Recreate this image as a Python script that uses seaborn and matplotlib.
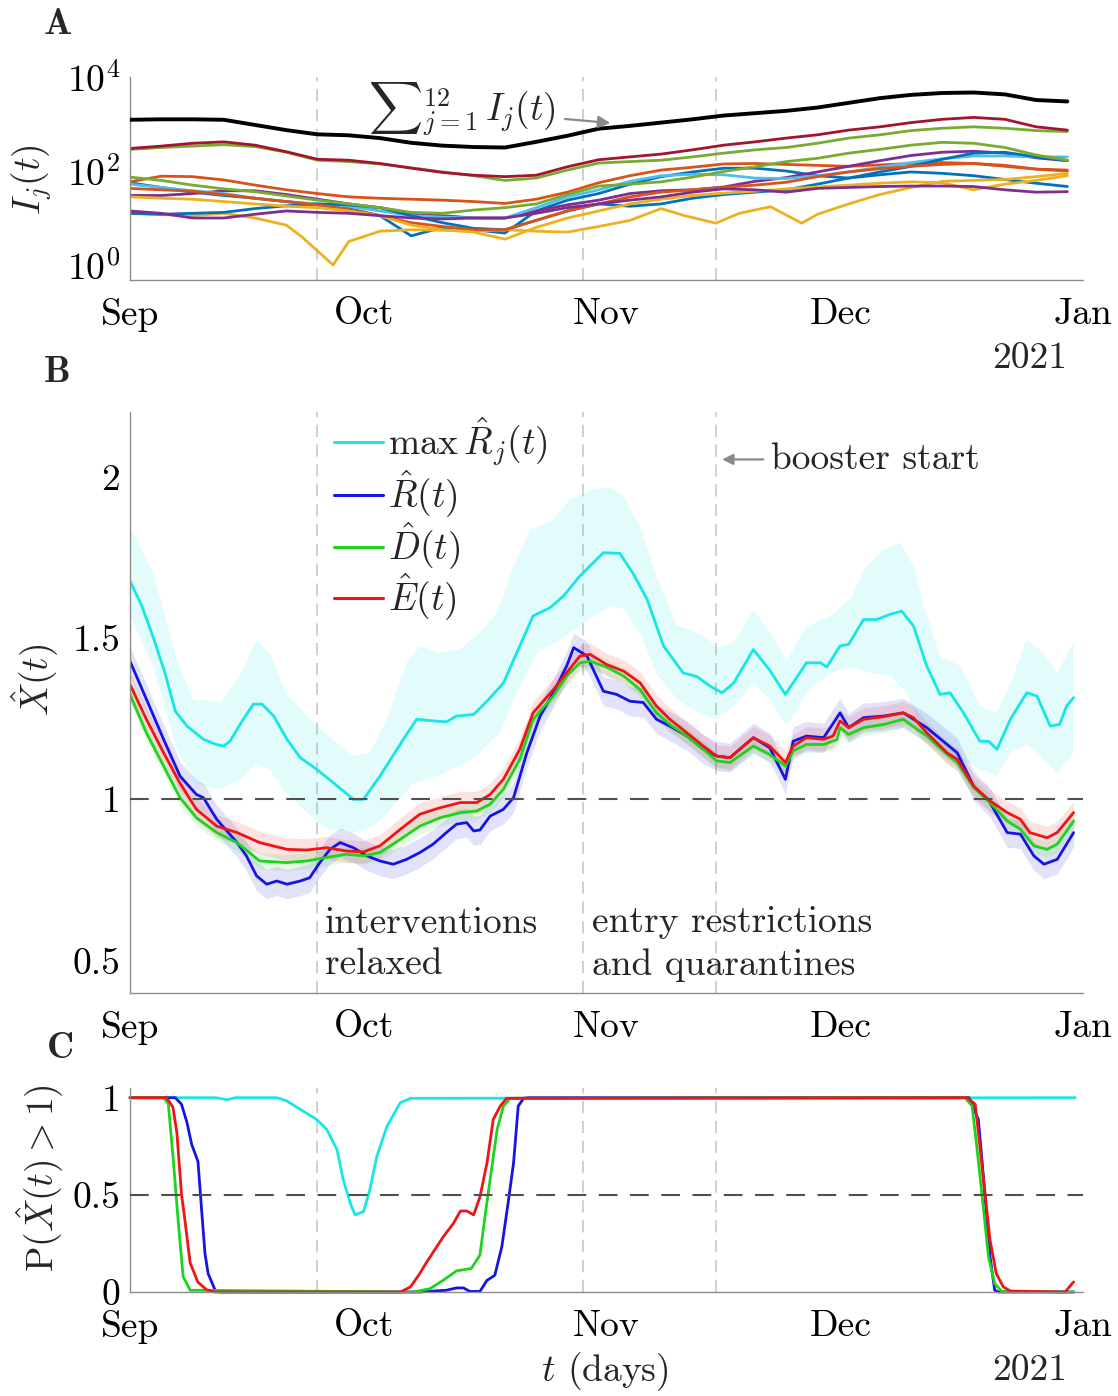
import numpy as np
import matplotlib
matplotlib.use("Agg")
import matplotlib.pyplot as plt
import seaborn as sns
from matplotlib.lines import Line2D
from matplotlib.ticker import LogLocator, NullFormatter

# ---------------- data ----------------
MONTH_TICKS = [0, 30, 61, 91, 122]
MONTH_LABELS = ["Sep", "Oct", "Nov", "Dec", "Jan"]
EVENT_DAYS = [24, 58, 75]

# Panel A: log10 of I_j(t), read every 4 days
DAYS_A = [0, 4, 8, 12, 16, 20, 24, 28, 32, 36, 40, 44, 48, 52, 56, 60,
          64, 68, 72, 76, 80, 84, 88, 92, 96, 100, 104, 108, 112, 116, 120]
log_total = [3.09, 3.10, 3.10, 3.09, 2.98, 2.87, 2.78, 2.76, 2.70, 2.60, 2.54, 2.51, 2.50, 2.62, 2.75, 2.90,
             2.96, 3.03, 3.10, 3.18, 3.23, 3.28, 3.35, 3.45, 3.55, 3.62, 3.66, 3.67, 3.63, 3.51, 3.48]
log_blue1 = [1.75, 1.65, 1.55, 1.48, 1.42, 1.35, 1.28, 1.20, 1.05, 0.62, 0.80, 0.75, 0.68, 1.15, 1.38, 1.52,
             1.72, 1.88, 1.98, 2.06, 2.06, 2.00, 1.90, 1.85, 1.92, 1.98, 1.95, 1.90, 1.82, 1.74, 1.67]
log_orange1 = [1.77, 1.89, 1.88, 1.81, 1.70, 1.60, 1.52, 1.45, 1.42, 1.40, 1.38, 1.35, 1.31, 1.40, 1.55, 1.75,
               1.90, 2.02, 2.08, 2.15, 2.16, 2.14, 2.12, 2.10, 2.13, 2.16, 2.18, 2.16, 2.12, 2.04, 2.00]
DAYS_YELLOW1 = [0, 4, 8, 12, 16, 20, 22, 24, 26, 28, 32, 36, 40, 44, 48, 52, 56, 60, 64, 68, 71, 75,
                78, 82, 86, 88, 92, 96, 100, 104, 108, 112, 116, 120]
log_yellow1 = [1.10, 1.07, 1.05, 1.10, 1.00, 0.85, 0.60, 0.30, 0.00, 0.50, 0.72, 0.75, 0.74, 0.72, 0.75, 0.72,
               0.70, 0.82, 0.95, 1.20, 1.05, 0.89, 1.10, 1.24, 0.89, 1.08, 1.30, 1.50, 1.65, 1.78, 1.80, 1.82,
               1.88, 1.95]
log_purple1 = [1.48, 1.48, 1.52, 1.58, 1.58, 1.50, 1.40, 1.30, 1.22, 1.10, 1.05, 1.00, 1.00, 1.15, 1.28, 1.38,
               1.52, 1.58, 1.60, 1.66, 1.78, 1.86, 1.98, 2.10, 2.22, 2.33, 2.40, 2.42, 2.38, 2.28, 2.22]
log_green1 = [2.46, 2.50, 2.53, 2.56, 2.52, 2.40, 2.23, 2.20, 2.15, 2.07, 1.98, 1.90, 1.80, 1.85, 2.02, 2.17,
              2.20, 2.23, 2.30, 2.38, 2.45, 2.50, 2.59, 2.70, 2.77, 2.86, 2.91, 2.94, 2.91, 2.86, 2.84]
log_lightblue = [1.72, 1.65, 1.58, 1.52, 1.42, 1.35, 1.30, 1.25, 1.15, 1.05, 1.02, 1.00, 1.00, 1.22, 1.45, 1.60,
                 1.78, 1.90, 1.93, 1.92, 1.85, 1.84, 1.90, 1.98, 2.08, 2.18, 2.26, 2.32, 2.32, 2.30, 2.30]
log_darkred = [2.48, 2.53, 2.59, 2.62, 2.55, 2.41, 2.25, 2.23, 2.16, 2.06, 1.97, 1.91, 1.88, 1.91, 2.09, 2.24,
               2.30, 2.36, 2.45, 2.55, 2.62, 2.70, 2.77, 2.87, 2.94, 3.03, 3.10, 3.14, 3.10, 2.94, 2.87]
log_blue2 = [1.10, 1.08, 1.10, 1.12, 1.20, 1.26, 1.30, 1.28, 1.22, 1.05, 0.90, 0.78, 0.75, 0.95, 1.15, 1.30,
             1.25, 1.30, 1.42, 1.50, 1.55, 1.60, 1.72, 1.85, 1.98, 2.10, 2.25, 2.38, 2.40, 2.30, 2.22]
log_orange2 = [1.63, 1.60, 1.57, 1.50, 1.42, 1.35, 1.28, 1.18, 1.05, 0.90, 0.82, 0.75, 0.75, 0.95, 1.15, 1.30,
               1.45, 1.55, 1.60, 1.65, 1.70, 1.76, 1.88, 1.98, 2.05, 2.10, 2.14, 2.16, 2.10, 2.04, 2.02]
log_yellow2 = [1.45, 1.42, 1.40, 1.35, 1.30, 1.25, 1.22, 1.15, 1.05, 0.85, 0.75, 0.70, 0.55, 0.80, 1.00, 1.15,
               1.30, 1.40, 1.48, 1.53, 1.57, 1.62, 1.66, 1.70, 1.74, 1.77, 1.75, 1.60, 1.72, 1.80, 1.90]
log_purple2 = [1.15, 1.10, 1.00, 1.00, 1.08, 1.15, 1.12, 1.10, 1.05, 1.00, 0.98, 1.00, 1.00, 1.10, 1.22, 1.30,
               1.38, 1.45, 1.55, 1.62, 1.60, 1.55, 1.63, 1.65, 1.67, 1.68, 1.68, 1.67, 1.60, 1.55, 1.56]
log_green2 = [1.87, 1.80, 1.70, 1.62, 1.56, 1.47, 1.38, 1.30, 1.22, 1.12, 1.10, 1.17, 1.22, 1.30, 1.50, 1.68,
              1.72, 1.77, 1.87, 1.99, 2.09, 2.20, 2.27, 2.38, 2.46, 2.55, 2.61, 2.59, 2.50, 2.34, 2.23]

# Panel B: max R_j(t) with its band
DAYS_MAXR = [0, 1.5, 3, 4.5, 5.8, 7.3, 9.4, 11, 12, 12.8, 14.5, 15.8, 16.9, 18.4, 20.1, 21.8, 23.9, 26,
             28.6, 29.9, 32, 35, 36.7, 38.8, 40.5, 41.8, 44, 45.7, 47.8, 49.9, 51.6, 53.8, 55.5, 57.6,
             60.6, 62.7, 64.4, 66.2, 68.3, 70.8, 72.6, 74.3, 75.8, 77.3, 79.8, 81.9, 83.9, 86.6, 88.4,
             89.2, 90.9, 92, 93.9, 95.6, 97.3, 98.8, 100.3, 102, 103.7, 105, 106.7, 108.8, 109.9, 111,
             112.7, 114.8, 116.1, 117.8, 119, 119.9, 120.8]
MAXR = [1.676, 1.60, 1.50, 1.39, 1.273, 1.227, 1.186, 1.17, 1.165, 1.18, 1.248, 1.295, 1.295, 1.258,
        1.186, 1.129, 1.093, 1.052, 1.0, 1.0, 1.072, 1.186, 1.248, 1.243, 1.24, 1.258, 1.263, 1.304,
        1.36, 1.475, 1.568, 1.594, 1.63, 1.692, 1.764, 1.762, 1.70, 1.62, 1.475, 1.392, 1.38, 1.35,
        1.33, 1.361, 1.464, 1.40, 1.325, 1.423, 1.423, 1.41, 1.475, 1.48, 1.557, 1.557, 1.573, 1.583,
        1.537, 1.413, 1.325, 1.33, 1.268, 1.18, 1.18, 1.155, 1.248, 1.33, 1.32, 1.227, 1.232, 1.289,
        1.315]
DAYS_MAXR_HI = [0, 3, 6, 8.1, 11.5, 14, 16.2, 17.9, 20, 22.6, 25.2, 28.6, 30.7, 32.9, 35.4, 37.1, 39.7,
                42.2, 44.8, 47, 49.1, 51.2, 54.2, 56.3, 59.3, 61.5, 63.2, 65.3, 67.4, 70, 71.7, 73.9,
                75.1, 77.3, 79.8, 81.9, 84.1, 86.6, 89.6, 92.2, 94.3, 96.4, 98.6, 100.3, 101.6, 103.7,
                106.3, 108.8, 111, 112.7, 114.8, 116.9, 118.7, 120.8]
MAXR_HI = [1.846, 1.70, 1.433, 1.31, 1.30, 1.38, 1.495, 1.45, 1.33, 1.258, 1.20, 1.134, 1.145, 1.248,
           1.423, 1.475, 1.454, 1.464, 1.516, 1.578, 1.722, 1.835, 1.866, 1.93, 1.96, 1.965, 1.94,
           1.846, 1.69, 1.537, 1.525, 1.50, 1.47, 1.485, 1.588, 1.516, 1.43, 1.535, 1.567, 1.62, 1.722,
           1.773, 1.795, 1.722, 1.60, 1.444, 1.413, 1.289, 1.268, 1.36, 1.495, 1.454, 1.392, 1.485]
DAYS_MAXR_LO = [0, 3, 6, 8.5, 11.5, 14, 16.2, 17.9, 20, 22.6, 25.2, 28.6, 31.2, 33.7, 36.3, 39.3, 42.2,
                44.8, 47.4, 49.1, 52.1, 55.1, 57.6, 59.5, 61.5, 63.2, 65.3, 67.4, 70, 72.6, 75.1, 77.3,
                79.8, 81.9, 84.1, 86.6, 89.6, 92.2, 94.7, 97.3, 99.4, 101.6, 103.7, 106.3, 108.8, 111,
                112.7, 114.8, 116.9, 118.7, 120.8]
MAXR_LO = [1.57, 1.41, 1.155, 1.05, 1.03, 1.06, 1.11, 1.09, 1.02, 0.96, 0.91, 0.897, 0.917, 0.98, 1.05,
           1.072, 1.103, 1.144, 1.206, 1.31, 1.454, 1.495, 1.537, 1.57, 1.60, 1.59, 1.516, 1.39, 1.31,
           1.27, 1.248, 1.29, 1.36, 1.31, 1.227, 1.33, 1.392, 1.41, 1.392, 1.382, 1.33, 1.206, 1.155,
           1.124, 1.093, 1.072, 1.144, 1.17, 1.124, 1.082, 1.144]

DAYS_R = [0, 2.1, 4.3, 6.4, 8.5, 9.4, 11.1, 13.7, 14.9, 16.2, 17.5, 18.8, 20.1, 21.8, 23.0, 24.3, 25.6,
          26.9, 28.6, 30.3, 32, 33.7, 35.4, 37.1, 38.8, 40.5, 41.8, 43.1, 44, 44.8, 46.1, 47.8, 49.1,
          50.8, 52.5, 54.2, 55.9, 56.8, 58.5, 60.6, 62.3, 64, 65.7, 67.4, 69.1, 71.3, 73.4, 75.1, 76.8,
          79.8, 81.9, 83.9, 84.9, 86.6, 88.8, 90.9, 92, 93.9, 96.5, 99, 102, 104.6, 105.9, 108, 110.1,
          112.3, 114, 115.7, 117, 118.7, 120.8]
R_HAT = [1.428, 1.31, 1.186, 1.072, 1.015, 1.005, 0.938, 0.866, 0.825, 0.763, 0.737, 0.747, 0.737,
         0.747, 0.757, 0.804, 0.845, 0.866, 0.85, 0.825, 0.809, 0.799, 0.814, 0.835, 0.861, 0.897, 0.923,
         0.928, 0.902, 0.905, 0.948, 0.969, 1.005, 1.144, 1.258, 1.33, 1.413, 1.47, 1.444, 1.335, 1.325,
         1.304, 1.30, 1.248, 1.227, 1.196, 1.155, 1.134, 1.129, 1.191, 1.16, 1.062, 1.18, 1.196, 1.191,
         1.268, 1.222, 1.253, 1.258, 1.268, 1.222, 1.17, 1.144, 1.041, 0.99, 0.897, 0.892, 0.825, 0.799,
         0.814, 0.897]
DAYS_D = [0, 2.1, 4.3, 6.4, 8.5, 11.1, 13.7, 16.6, 20.1, 22.6, 25.2, 27.7, 29.9, 32, 34.6, 37.1, 39.7,
          42.3, 44.4, 46.1, 47.8, 49.9, 51.6, 54.2, 55.9, 57.6, 58.9, 61, 63.2, 65.3, 67.4, 69.1, 71.3,
          73.4, 75.1, 76.8, 79.8, 81.9, 83.9, 84.9, 86.6, 88.8, 90.5, 90.9, 92, 93.9, 96.5, 99, 102,
          104.6, 105.9, 108, 110.1, 112.3, 114, 115.7, 117.4, 118.7, 120.8]
D_HAT = [1.325, 1.206, 1.103, 1.005, 0.943, 0.897, 0.866, 0.809, 0.804, 0.809, 0.82, 0.83, 0.825, 0.835,
         0.876, 0.917, 0.943, 0.959, 0.964, 0.985, 1.031, 1.124, 1.248, 1.32, 1.382, 1.423, 1.428, 1.41,
         1.382, 1.34, 1.268, 1.232, 1.196, 1.155, 1.119, 1.114, 1.165, 1.139, 1.103, 1.15, 1.17, 1.17,
         1.185, 1.222, 1.201, 1.222, 1.232, 1.248, 1.196, 1.139, 1.114, 1.036, 0.99, 0.933, 0.907, 0.856,
         0.845, 0.861, 0.933]
DAYS_E = [0, 2.1, 4.3, 6.4, 8.5, 11.1, 13.7, 16.6, 20.1, 22.6, 25.2, 27.7, 29.9, 32, 34.6, 37.1, 39.7,
          42.3, 44.4, 46.1, 47.8, 49.9, 51.6, 54.2, 55.9, 57.6, 58.9, 61, 63.2, 65.3, 67.4, 69.1, 71.3,
          73.4, 75.1, 76.8, 79.8, 81.9, 83.9, 84.9, 86.6, 88.8, 90, 90.9, 92, 93.9, 96.5, 99, 100.3, 102,
          104.6, 105.9, 108, 110.1, 112.3, 114, 115.2, 117.4, 118.7, 120.8]
E_HAT = [1.356, 1.248, 1.144, 1.05, 0.969, 0.917, 0.897, 0.866, 0.845, 0.843, 0.85, 0.84, 0.837, 0.856,
         0.907, 0.954, 0.974, 0.99, 0.99, 1.015, 1.062, 1.155, 1.268, 1.34, 1.392, 1.444, 1.449, 1.418,
         1.397, 1.361, 1.289, 1.248, 1.206, 1.165, 1.134, 1.129, 1.191, 1.165, 1.114, 1.165, 1.191, 1.186,
         1.196, 1.243, 1.222, 1.248, 1.256, 1.268, 1.253, 1.206, 1.144, 1.124, 1.041, 0.995, 0.959, 0.938,
         0.897, 0.881, 0.897, 0.959]
BAND_HALF = {"R": 0.045, "D": 0.025, "E": 0.035}

# Panel C: P(X(t) > 1)
DAYS_P_MAXR = [0, 11, 12.4, 13.5, 18.8, 20, 21.8, 23.9, 25.2, 26.5, 27.3, 28.2, 28.8, 29.9, 30.7, 31.6,
               32.9, 34.6, 35.9, 121]
P_MAXR = [1, 1, 0.99, 1, 1, 0.985, 0.94, 0.888, 0.836, 0.733, 0.578, 0.457, 0.397, 0.414, 0.526, 0.698,
          0.853, 0.974, 0.997, 1]
DAYS_P_R = [0, 5.8, 6.6, 7.3, 7.9, 8.7, 9.2, 9.6, 10, 10.9, 11.5, 37.1, 40.5, 41.8, 42.7, 43.5, 44.8,
            45.7, 46.7, 47.6, 48.4, 49.1, 49.7, 50.4, 51, 107.4, 108.6, 109.1, 109.5, 110.1, 110.7,
            111.2, 120.8]
P_R = [1, 1, 0.966, 0.871, 0.759, 0.672, 0.405, 0.198, 0.095, 0.009, 0, 0, 0.009, 0.021, 0.021, 0.003,
       0.003, 0.06, 0.086, 0.233, 0.457, 0.664, 0.957, 0.997, 1, 1, 0.888, 0.664, 0.474, 0.181, 0.009,
       0, 0]
DAYS_P_D = [0, 4.3, 4.9, 5.5, 6.2, 6.8, 7.7, 36.3, 38.4, 40.1, 41.8, 43.7, 44.8, 45.5, 46.1, 47, 47.8,
            48.7, 106.9, 107.8, 108.4, 109.1, 109.9, 110.7, 111.6, 120.8]
P_D = [1, 1, 0.97, 0.70, 0.35, 0.08, 0.009, 0, 0.017, 0.06, 0.109, 0.121, 0.19, 0.405, 0.578, 0.836,
       0.957, 0.997, 1, 0.957, 0.75, 0.49, 0.181, 0.043, 0.003, 0]
DAYS_P_E = [0, 4.7, 5.5, 6.0, 6.6, 7.0, 7.7, 8.7, 9.8, 10.9, 34.6, 35.9, 37.1, 38, 40.1, 41.4, 42.3,
            43.1, 44, 44.8, 45.7, 46.5, 47.4, 48.2, 107.2, 108.2, 108.8, 109.5, 110.1, 110.9, 111.8,
            112.7, 119.7, 120.8]
P_E = [1, 1, 0.95, 0.82, 0.5, 0.38, 0.15, 0.05, 0.012, 0, 0, 0.026, 0.095, 0.155, 0.284, 0.353, 0.417,
       0.417, 0.397, 0.49, 0.664, 0.888, 0.957, 0.997, 1, 0.966, 0.75, 0.49, 0.267, 0.095, 0.026, 0.005,
       0, 0.052]

# ---------------- style ----------------
sns.set_style("white")
plt.rcParams.update({
    "font.family": ["cmr10", "DejaVu Serif"],
    "mathtext.fontset": "cm",
    "axes.formatter.use_mathtext": True,
    "axes.unicode_minus": False,
})
FS = 27
SPINE = "#8c8c8c"
C_MAXR, C_R, C_D, C_E = "#17e6e6", "#1414e6", "#1ed21e", "#f01414"
M = {"blue": "#0072BD", "orange": "#D95319", "yellow": "#EDB120", "purple": "#7E2F8E",
     "green": "#77AC30", "lightblue": "#4DBEEE", "darkred": "#A2142F"}

W, H = 1118, 1396
fig = plt.figure(figsize=(W / 100, H / 100), dpi=100)


def ax_at(left, top, right, bottom):
    return fig.add_axes([left / W, 1 - bottom / H, (right - left) / W, (bottom - top) / H])


axA = ax_at(130, 77, 1083, 280)
axB = ax_at(130, 412, 1083, 993)
axC = ax_at(130, 1088, 1083, 1292)


def style(ax):
    for s in ["top", "right"]:
        ax.spines[s].set_visible(False)
    for s in ["left", "bottom"]:
        ax.spines[s].set_color(SPINE)
        ax.spines[s].set_linewidth(1.0)
    ax.tick_params(axis="both", which="major", direction="in", length=6, width=0.9,
                   color=SPINE, labelsize=FS, labelcolor="black")
    ax.tick_params(axis="x", pad=13)
    ax.tick_params(axis="y", pad=7)
    ax.tick_params(axis="both", which="minor", direction="in", length=3, width=0.7, color=SPINE)
    ax.set_xlim(0, 122)
    ax.set_xticks(MONTH_TICKS)
    ax.set_xticklabels(MONTH_LABELS)
    for d in EVENT_DAYS:
        ax.axvline(d, color="#c4c4c4", lw=1.1, ls=(0, (8, 5)), zorder=0.5)


def line(ax, x, y, color, lw, z=2, clip=True):
    sns.lineplot(x=np.asarray(x, float), y=np.asarray(y, float), ax=ax, color=color, lw=lw,
                 estimator=None, sort=False, legend=False, zorder=z, clip_on=clip)


# ---------------- Panel A ----------------
style(axA)
series_A = [
    (DAYS_A, log_blue1, M["blue"]), (DAYS_A, log_orange1, M["orange"]),
    (DAYS_YELLOW1, log_yellow1, M["yellow"]), (DAYS_A, log_purple1, M["purple"]),
    (DAYS_A, log_green1, M["green"]), (DAYS_A, log_lightblue, M["lightblue"]),
    (DAYS_A, log_darkred, M["darkred"]), (DAYS_A, log_blue2, M["blue"]),
    (DAYS_A, log_orange2, M["orange"]), (DAYS_A, log_yellow2, M["yellow"]),
    (DAYS_A, log_purple2, M["purple"]), (DAYS_A, log_green2, M["green"]),
]
for xs, ys, c in series_A:
    line(axA, xs, 10 ** np.asarray(ys), c, 2.0)
line(axA, DAYS_A, 10 ** np.asarray(log_total), "black", 2.8, z=3)
axA.set_yscale("log")
axA.set_ylim(0.48, 1e4)
axA.set_yticks([1, 100, 1e4])
axA.set_yticklabels([r"$10^0$", r"$10^2$", r"$10^4$"])
axA.yaxis.set_minor_locator(LogLocator(base=10, subs=np.arange(1, 10), numticks=30))
axA.yaxis.set_minor_formatter(NullFormatter())
axA.set_xlim(0, 122)
axA.annotate(r"${\sum}_{j=1}^{12}\, I_j(t)$", xy=(61.5, 1050), xytext=(30.5, 2000),
             textcoords="data", ha="left", va="center", fontsize=FS,
             arrowprops=dict(arrowstyle="-|>", color="#8a8a8a", lw=1.6, mutation_scale=18,
                             shrinkA=4, shrinkB=0))

# ---------------- Panel B ----------------
style(axB)
hi_x = np.asarray(DAYS_MAXR_HI)
lo_x = np.asarray(DAYS_MAXR_LO)
poly_x = np.concatenate([hi_x, lo_x[::-1]])
poly_y = np.concatenate([np.asarray(MAXR_HI), np.asarray(MAXR_LO)[::-1]])
axB.fill(poly_x, poly_y, color=C_MAXR, alpha=0.12, lw=0, zorder=1)
for xs, ys, c, k in [(DAYS_R, R_HAT, C_R, "R"), (DAYS_D, D_HAT, C_D, "D"), (DAYS_E, E_HAT, C_E, "E")]:
    ys = np.asarray(ys)
    axB.fill_between(xs, ys - BAND_HALF[k], ys + BAND_HALF[k], color=c, alpha=0.12, lw=0, zorder=1)
line(axB, DAYS_MAXR, MAXR, C_MAXR, 2.0)
line(axB, DAYS_R, R_HAT, C_R, 2.0)
line(axB, DAYS_D, D_HAT, C_D, 2.0)
line(axB, DAYS_E, E_HAT, C_E, 2.0, z=2.5)
axB.axhline(1, color="#505050", lw=1.5, ls=(0, (9, 6)), zorder=3)
axB.set_ylim(0.4, 2.2)
axB.set_yticks([0.5, 1, 1.5, 2])
axB.set_yticklabels(["0.5", "1", "1.5", "2"])
handles = [Line2D([], [], color=C_MAXR, lw=2.2), Line2D([], [], color=C_R, lw=2.2),
           Line2D([], [], color=C_D, lw=2.2), Line2D([], [], color=C_E, lw=2.2)]
labels = [r"$\max\,\hat{R}_j(t)$", r"$\hat{R}(t)$", r"$\hat{D}(t)$", r"$\hat{E}(t)$"]
axB.legend(handles, labels, loc="upper left", bbox_to_anchor=(0.21, 1.0), frameon=False,
           fontsize=FS, handlelength=1.3, handletextpad=0.15, labelspacing=0.0,
           borderaxespad=0.0, borderpad=0.1)
axB.annotate("booster start", xy=(75.8, 2.053), xytext=(82.0, 2.053), textcoords="data",
             ha="left", va="center", fontsize=FS,
             arrowprops=dict(arrowstyle="-|>", color="#8a8a8a", lw=1.6, mutation_scale=16,
                             shrinkA=3, shrinkB=0))
axB.text(25.0, 0.552, "interventions\nrelaxed", ha="left", va="center", fontsize=FS, linespacing=1.32)
axB.text(59.2, 0.552, "entry restrictions\nand quarantines", ha="left", va="center", fontsize=FS,
         linespacing=1.32)

# ---------------- Panel C ----------------
style(axC)
line(axC, DAYS_P_MAXR, P_MAXR, C_MAXR, 2.0, clip=False)
line(axC, DAYS_P_R, P_R, C_R, 2.0, clip=False)
line(axC, DAYS_P_D, P_D, C_D, 2.0, clip=False)
line(axC, DAYS_P_E, P_E, C_E, 2.0, z=2.5, clip=False)
axC.axhline(0.5, color="#505050", lw=1.5, ls=(0, (9, 6)), zorder=3)
axC.set_ylim(0, 1.05)
axC.set_yticks([0, 0.5, 1])
axC.set_yticklabels(["0", "0.5", "1"])

for ax in (axA, axB, axC):
    ax.set_xlabel("")
    ax.set_ylabel("")

# ---------------- labels ----------------
fig.text(32 / W, 1 - 180 / H, r"$I_j(t)$", rotation=90, ha="center", va="center", fontsize=FS)
fig.text(35 / W, 1 - 680 / H, r"$\hat{X}(t)$", rotation=90, ha="center", va="center", fontsize=FS)
fig.text(40 / W, 1 - 1178 / H, r"$\mathrm{P}(\hat{X}(t) > 1)$", rotation=90, ha="center",
         va="center", fontsize=FS)
fig.text(605 / W, 1 - 1372 / H, r"$t$ (days)", ha="center", va="center", fontsize=FS)
fig.text(1030 / W, 1 - 358 / H, "2021", ha="center", va="center", fontsize=FS)
fig.text(1030 / W, 1 - 1370 / H, "2021", ha="center", va="center", fontsize=FS)
for lab, (px, py) in {"A": (58, 25), "B": (57, 372), "C": (60, 1048)}.items():
    fig.text(px / W, 1 - py / H, lab, ha="center", va="center", fontsize=FS,
             family=["cmb10", "DejaVu Serif"], fontweight="bold")

fig.savefig("out.png", dpi=100)
